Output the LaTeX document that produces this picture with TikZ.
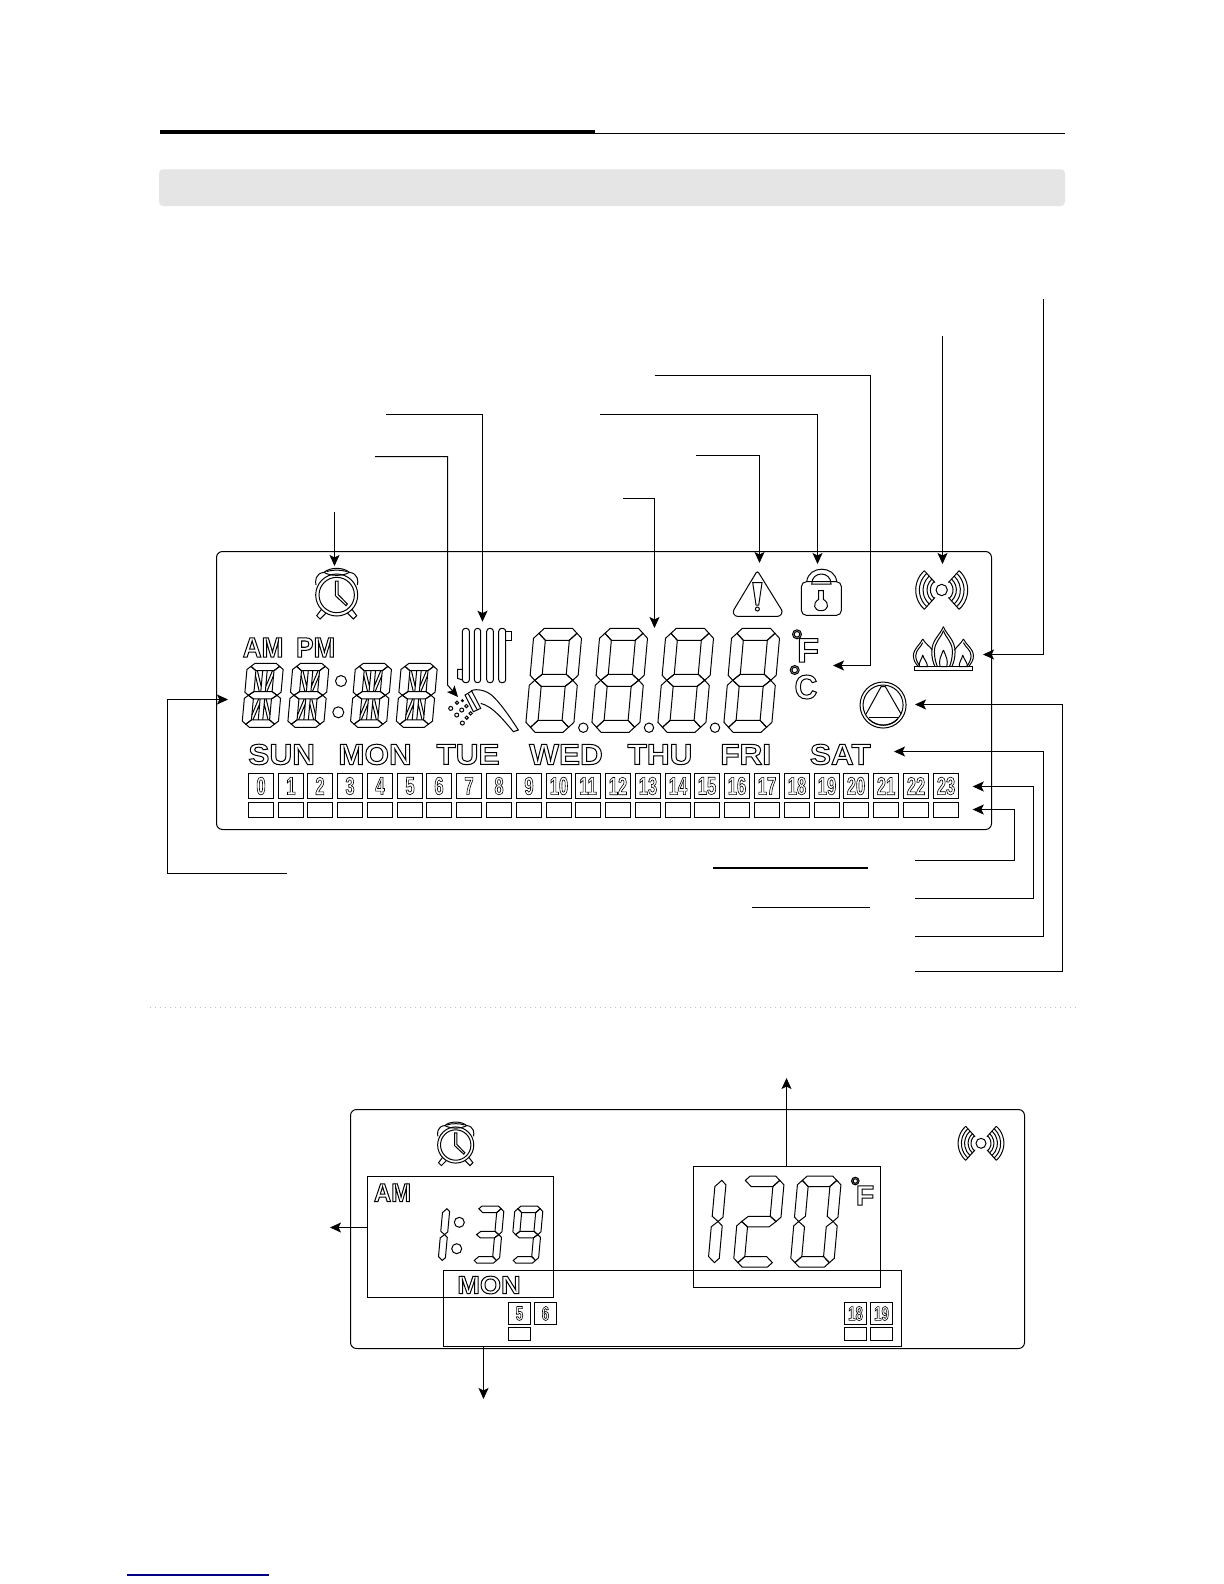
\documentclass[tikz,border=0pt]{standalone}
\usepackage{fontspec}
\setmainfont{Liberation Sans}
\newfontfamily\dayfont[FakeStretch=1.08]{Liberation Sans}
\newfontfamily\ampmfont[FakeStretch=0.93]{Liberation Sans}
\newfontfamily\hourfont[FakeStretch=0.66]{Liberation Sans}
\usetikzlibrary{positioning,arrows.meta}

% outlined letters, as on the display
\newcommand{\outlined}[1]{\special{pdf:code 1 Tr 0.5 w}#1\special{pdf:code 0 Tr}}
\newcommand{\thinoutlined}[1]{\special{pdf:code 1 Tr 0.3 w}#1\special{pdf:code 0 Tr}}

% one digit of the display, 48 wide and 104 high before scaling
\newcommand{\segA}{(10,0)--(38,0)--(43,5)--(36,12)--(12,12)--(5,5)--cycle}
\newcommand{\segB}{(43,5)--(48,10)--(48,47)--(43,52)--(36,46)--(36,12)--cycle}
\newcommand{\segC}{(43,52)--(48,57)--(48,94)--(43,99)--(36,92)--(36,58)--cycle}
\newcommand{\segD}{(5,99)--(12,92)--(36,92)--(43,99)--(38,104)--(10,104)--cycle}
\newcommand{\segE}{(5,52)--(12,58)--(12,92)--(5,99)--(0,94)--(0,57)--cycle}
\newcommand{\segF}{(5,5)--(12,12)--(12,46)--(5,52)--(0,47)--(0,10)--cycle}
\newcommand{\segG}{(5,52)--(12,46)--(36,46)--(43,52)--(36,58)--(12,58)--cycle}
\newcommand{\segX}{(21,12)--(21,46) (27,12)--(27,46) (14,12)--(21,38) (12,20)--(19,46) (34,12)--(27,38) (36,20)--(29,46)
  (21,58)--(21,92) (27,58)--(27,92) (19,58)--(12,84) (21,66)--(14,92) (29,58)--(36,84) (27,66)--(34,92)}
\newcommand{\digitsegs}[5]{%
  \begin{scope}[shift={(#1,#2)},xslant=0.09,xscale=#3,yscale=#4,lcdline]
    \foreach \seg in {#5} {\expandafter\draw\csname seg\seg\endcsname;}
  \end{scope}}

\newcommand{\alarmicon}[3]{%
  \begin{scope}[shift={(#1,#2)},x=#3*0.1667pt,y=-#3*0.1667pt,lcdline]
    \draw (0,0) circle (63);
    \draw (0,0) circle (53);
    \draw (-4,-42)--(-4,2)--(28,32)--(32,27)--(4,-2)--(4,-42)--cycle;
    \draw (-38,-68) .. controls (-20,-84) and (20,-84) .. (38,-68) .. controls (20,-56) and (-20,-56) .. cycle;
    \draw (-30,-70) .. controls (-15,-76) and (15,-76) .. (30,-70);
    \draw (-38,-68) .. controls (-65,-65) and (-65,-40) .. (-62,-30);
    \draw (38,-68) .. controls (65,-65) and (65,-40) .. (62,-30);
    \draw (-45,42)--(-60,62)--(-50,72)--(-32,54);
    \draw (45,42)--(60,62)--(50,72)--(32,54);
  \end{scope}}
\newcommand{\waveicon}[3]{%
  \begin{scope}[shift={(#1,#2)},x=#3*0.1667pt,y=#3*0.1667pt,lcdline]
    \draw (0,0) circle (17);
    \foreach \rad in {34,44,56,67,78} {
      \draw (132:\rad) arc (132:228:\rad);
      \draw (48:\rad) arc (48:-48:\rad);
    }
    \foreach \ang in {132,228,48,-48} {\draw (\ang:30) -- (\ang:78);}
  \end{scope}}

\tikzset{
  lcdline/.style={line width=0.5pt},
  arrow/.style={-{Stealth[length=5.5pt,width=5pt,inset=1.2pt]},line width=0.5pt},
  plainline/.style={line width=0.5pt},
  panel/.style={draw,line width=0.5pt,rounded corners=3pt,inner sep=0,outer sep=0},
  framebox/.style={draw,line width=0.5pt,inner sep=0,outer sep=0},
  hourbox/.style={draw,line width=0.5pt,minimum width=12.5pt,minimum height=12.5pt,inner sep=0,outer sep=0,font=\hourfont\bfseries\fontsize{12.5}{12.5}\selectfont},
  slotbox/.style={draw,line width=0.5pt,minimum width=12.5pt,minimum height=7.5pt,inner sep=0,outer sep=0},
  smallhour/.style={draw,line width=0.5pt,minimum width=11pt,minimum height=11pt,inner sep=0,outer sep=0,font=\hourfont\bfseries\fontsize{10}{10}\selectfont},
  smallslot/.style={draw,line width=0.5pt,minimum width=11pt,minimum height=6.5pt,inner sep=0,outer sep=0},
  dayname/.style={inner sep=0,font=\dayfont\bfseries\fontsize{14.6}{14.6}\selectfont},
  smallday/.style={inner sep=0,font=\dayfont\bfseries\fontsize{12.6}{12.6}\selectfont},
  ampm/.style={inner sep=0,font=\ampmfont\bfseries\fontsize{14}{14}\selectfont},
  smallampm/.style={inner sep=0,font=\ampmfont\bfseries\fontsize{12.8}{12.8}\selectfont},
  unitmark/.style={inner sep=0,font=\dayfont\bfseries\fontsize{17}{17}\selectfont},
  unitround/.style={inner sep=0,font=\ampmfont\bfseries\fontsize{17}{17}\selectfont},
  smallunit/.style={inner sep=0,font=\dayfont\bfseries\fontsize{14}{14}\selectfont}
}

\begin{document}
\begin{tikzpicture}[x=0.5pt,y=-0.5pt]
    \useasboundingbox (0,0) rectangle (1224,1584);

    % page head
    \fill[black] (160,130) rectangle (595,134);
    \draw[line width=0.5pt] (595,133.5) -- (1065,133.5);
    \fill[black!10,rounded corners=2pt] (159,169.3) rectangle (1065,206);
    \draw[black!25,line width=0.5pt,dotted] (150,1007.5) -- (1077,1007.5);
    \draw[blue!50!black,line width=0.8pt] (127,1575) -- (269,1575);

    % big display
    \node[panel,minimum width=387.5pt,minimum height=139pt] (mainpanel) at (604,690.5) {};
    \alarmicon{336.7}{595}{1}
    \waveicon{941.7}{590}{1}
    \node[ampm] (amlabel) at (263,647.5) {\outlined{AM}};
    \node[ampm] (pmlabel) at (315.7,647.5) {\outlined{PM}};
    \foreach \digitx in {247.5,293.1,355.8,401.5} {
      \digitsegs{\digitx}{663.3}{0.754}{0.615}{A,B,C,D,E,F,G,X}
    }
    \draw[lcdline] (341,681) circle (5.5) (338.3,712.3) circle (5.5);
    \foreach \digitx in {534.4,600.4,666.4,732.4} {
      \digitsegs{\digitx}{628.3}{1}{1}{A,B,C,D,E,F,G}
    }
    \foreach \dotx in {583.3,649,715} {
      \draw[lcdline] (\dotx,727.7) circle (4.7);
    }
    \node[unitmark] (degf) at (808,650.3) {\outlined{F}};
    \node[unitround] (degc) at (806,687) {\outlined{C}};
    \draw[lcdline] (797,634.3) circle (4.5) (797,634.3) circle (2.8);
    \draw[lcdline] (794.7,670) circle (4.5) (794.7,670) circle (2.8);

    % radiator, shower and drops
    \begin{scope}[shift={(210,540)},x=0.1667pt,y=-0.1667pt,lcdline]
      \draw[rounded corners=1.5pt] (757,265) rectangle (778,428);
      \draw[rounded corners=1.5pt] (793,265) rectangle (812,428);
      \draw[rounded corners=1.5pt] (830,265) rectangle (850,428);
      \draw[rounded corners=1.5pt] (866,265) rectangle (887,428);
      \draw (757,388) -- (743,388) -- (743,415) -- (757,420);
      \draw (887,275) -- (903,275) -- (903,300) -- (887,300);
      \draw (783,452) .. controls (800,445) and (830,450) .. (850,470) .. controls (880,500) and (905,540) .. (925,570) -- (910,575) .. controls (880,540) and (850,500) .. (812,490);
      \draw (765,465)--(785,453)--(812,505)--(790,515)--cycle;
      \draw (775,462)--(802,510);
      \draw (722,505) circle (6) (741,488) circle (5) (769,498) circle (5) (755,510) circle (6);
      \draw (740,525) circle (6) (782,520) circle (5) (770,533) circle (5) (757,549) circle (6);
      \fill (757,482) circle (5);
    \end{scope}

    % warning, lock, flame and pump
    \begin{scope}[shift={(600,540)},x=0.1667pt,y=-0.1667pt,lcdline]
      \draw[rounded corners=1.2pt] (472,92) -- (548,215) -- (540,229) -- (405,229) -- (398,215) -- cycle;
      \draw (458,128) -- (486,128) -- (476,195) -- (468,195) -- cycle;
      \draw (472,207) circle (6);
      \draw[rounded corners=2.5pt] (604,125) rectangle (724,226);
      \draw (620,125) .. controls (625,75) and (705,75) .. (710,125);
      \draw (635,132) -- (693,132) .. controls (693,92) and (635,92) .. cycle;
      \draw (656,152) -- (670,152) -- (670,178) .. controls (690,190) and (685,212) .. (663,212) .. controls (641,212) and (636,190) .. (656,178) -- cycle;
      \draw (943,380) rectangle (1118,390);
      \draw (1030,260) .. controls (1020,285) and (995,300) .. (995,335) .. controls (995,355) and (1000,370) .. (1005,380);
      \draw (1030,260) .. controls (1040,285) and (1065,300) .. (1065,335) .. controls (1065,355) and (1060,370) .. (1055,380);
      \draw (1030,272) .. controls (1022,295) and (1003,305) .. (1003,335) .. controls (1003,355) and (1008,370) .. (1012,380);
      \draw (1030,272) .. controls (1038,295) and (1057,305) .. (1057,335) .. controls (1057,355) and (1052,370) .. (1048,380);
      \draw (968,297) .. controls (960,315) and (940,325) .. (940,348) .. controls (940,362) and (948,372) .. (955,380);
      \draw (968,297) .. controls (975,310) and (990,320) .. (997,330);
      \draw (968,308) .. controls (962,322) and (947,330) .. (947,348) .. controls (947,360) and (954,370) .. (960,380);
      \draw (1090,297) .. controls (1098,315) and (1120,325) .. (1120,348) .. controls (1120,362) and (1112,372) .. (1105,380);
      \draw (1090,297) .. controls (1083,310) and (1070,320) .. (1063,330);
      \draw (1090,308) .. controls (1096,322) and (1113,330) .. (1113,348) .. controls (1113,360) and (1106,370) .. (1100,380);
      \draw (1030,330) .. controls (1022,350) and (1015,360) .. (1020,380) -- (1040,380) .. controls (1045,360) and (1038,350) .. (1030,330);
      \draw (968,345) .. controls (965,360) and (955,365) .. (958,380) -- (982,380) .. controls (982,365) and (972,360) .. (968,345);
      \draw (1088,345) .. controls (1085,360) and (1076,365) .. (1078,380) -- (1102,380) .. controls (1102,365) and (1092,360) .. (1088,345);
      \draw (849,495) circle (69) (849,495) circle (60);
      \draw (798,522) -- (843,440) -- (856,440) -- (903,522);
      \draw (806,532) -- (893,532);
      \draw (806,537) .. controls (830,562) and (870,562) .. (893,537);
    \end{scope}

    % week and hours
    \foreach \dayname/\dayx in {SUN/281.7,MON/375,TUE/468,WED/566,THU/660,FRI/745.7,SAT/840.3} {
      \node[dayname] (day\dayname) at (\dayx,754.5) {\outlined{\dayname}};
    }
    \foreach \hour in {0,...,23} {
      \pgfmathsetmacro{\hourx}{round(260.8+29.78*\hour)}
      \node[hourbox] (hour\hour) at (\hourx,786) {\thinoutlined{\hour}};
      \node[slotbox] (slot\hour) at (\hourx,810) {};
    }

    % connectors of the big display
    \coordinate (alarmstart) at (334.5,512);
    \coordinate (alarmtip) at (334.5,566);
    \coordinate (radstart) at (386,414.5);
    \coordinate (radbend) at (482.5,414.5);
    \coordinate (radtip) at (482.5,621.7);
    \coordinate (showerstart) at (375,456.5);
    \coordinate (showerbend) at (447.5,456.5);
    \coordinate (showerknee) at (447.5,685);
    \coordinate (showertip) at (458,697);
    \coordinate (digitstart) at (623,498.5);
    \coordinate (digitbend) at (654.5,498.5);
    \coordinate (digittip) at (654.5,628);
    \coordinate (warnstart) at (696,455.5);
    \coordinate (warnbend) at (759.5,455.5);
    \coordinate (warntip) at (759.5,563);
    \coordinate (lockstart) at (600,414.5);
    \coordinate (lockbend) at (817.5,414.5);
    \coordinate (locktip) at (817.5,564);
    \coordinate (unitstart) at (654.5,375.5);
    \coordinate (unitbend) at (870.5,375.5);
    \coordinate (unitknee) at (870.5,665.5);
    \coordinate (unittip) at (833,665.5);
    \coordinate (wavestart) at (942.5,336);
    \coordinate (wavetip) at (942.5,564);
    \coordinate (flamestart) at (1043.5,299);
    \coordinate (flamebend) at (1043.5,654.5);
    \coordinate (flametip) at (983,654.5);
    \coordinate (pumpstart) at (915,971.5);
    \coordinate (pumpbend) at (1062.5,971.5);
    \coordinate (pumpknee) at (1062.5,704.5);
    \coordinate (pumptip) at (915,704.5);
    \coordinate (weekstart) at (915,936.5);
    \coordinate (weekbend) at (1043.5,936.5);
    \coordinate (weekknee) at (1043.5,751.5);
    \coordinate (weektip) at (894,751.5);
    \coordinate (hourstart) at (915,898.5);
    \coordinate (hourbend) at (1033.5,898.5);
    \coordinate (hourknee) at (1033.5,786.5);
    \coordinate (hourtip) at (972.7,786.5);
    \coordinate (slotstart) at (915,860.5);
    \coordinate (slotbend) at (1014.5,860.5);
    \coordinate (slotknee) at (1014.5,809.5);
    \coordinate (slottip) at (972.7,809.5);
    \coordinate (clockstart) at (287,873.5);
    \coordinate (clockbend) at (167.5,873.5);
    \coordinate (clockknee) at (167.5,699.5);
    \coordinate (clocktip) at (228,699.5);
    \coordinate (ruleastart) at (713,868);
    \coordinate (ruleaend) at (868,868);
    \coordinate (rulebstart) at (752,907.5);
    \coordinate (rulebend) at (870,907.5);

    \draw[arrow] (alarmstart) -- (alarmtip);
    \draw[arrow] (radstart) -- (radbend) -- (radtip);
    \draw[arrow] (showerstart) -- (showerbend) -- (showerknee) -- (showertip);
    \draw[arrow] (digitstart) -- (digitbend) -- (digittip);
    \draw[arrow] (warnstart) -- (warnbend) -- (warntip);
    \draw[arrow] (lockstart) -- (lockbend) -- (locktip);
    \draw[arrow] (unitstart) -- (unitbend) -- (unitknee) -- (unittip);
    \draw[arrow] (wavestart) -- (wavetip);
    \draw[arrow] (flamestart) -- (flamebend) -- (flametip);
    \draw[arrow] (pumpstart) -- (pumpbend) -- (pumpknee) -- (pumptip);
    \draw[arrow] (weekstart) -- (weekbend) -- (weekknee) -- (weektip);
    \draw[arrow] (hourstart) -- (hourbend) -- (hourknee) -- (hourtip);
    \draw[arrow] (slotstart) -- (slotbend) -- (slotknee) -- (slottip);
    \draw[arrow] (clockstart) -- (clockbend) -- (clockknee) -- (clocktip);
    \draw[line width=1pt] (ruleastart) -- (ruleaend);
    \draw[plainline] (rulebstart) -- (rulebend);

    % small display
    \node[panel,minimum width=337pt,minimum height=119.5pt] (smallpanel) at (687.5,1229) {};
    \alarmicon{455.7}{1145}{0.86}
    \waveicon{981}{1143.3}{0.88}
    \node[framebox,minimum width=93pt,minimum height=60.5pt] (timebox) at (460.5,1237) {};
    \node[framebox,minimum width=93.5pt,minimum height=60.5pt] (tempbox) at (787,1227) {};
    \node[framebox,minimum width=229pt,minimum height=38pt] (daybox) at (672.5,1308.5) {};
    \node[smallampm] (amsmall) at (392.5,1192.7) {\outlined{AM}};
    \node[smallday] (monsmall) at (489,1285) {\outlined{MON}};
    \digitsegs{422}{1206}{0.585}{0.55}{B,C}
    \digitsegs{476.2}{1206}{0.585}{0.55}{A,B,C,D,G}
    \digitsegs{515.2}{1206}{0.585}{0.55}{A,B,C,D,F,G}
    \draw[lcdline] (459.3,1222.3) circle (5) (456.7,1248.7) circle (5);
    \digitsegs{683.2}{1176}{0.906}{0.875}{B,C}
    \digitsegs{741.2}{1176}{0.906}{0.875}{A,B,D,E,G}
    \digitsegs{798.2}{1176}{0.906}{0.875}{A,B,C,D,E,F}
    \node[smallunit] (degfsmall) at (865,1195.5) {\outlined{F}};
    \draw[lcdline] (855.3,1181) circle (3.8) (855.3,1181) circle (2.2);
    \node[smallhour] (hourfive) at (519.5,1313.5) {\thinoutlined{5}};
    \node[smallhour] (hoursix) at (545.5,1313.5) {\thinoutlined{6}};
    \node[smallhour] (houreight) at (855.5,1313.5) {\thinoutlined{18}};
    \node[smallhour] (hournine) at (881.5,1313.5) {\thinoutlined{19}};
    \node[smallslot] (slotfive) at (519.5,1334) {};
    \node[smallslot] (sloteight) at (855.5,1334) {};
    \node[smallslot] (slotnine) at (881.5,1334) {};

    \coordinate (temptip) at (786.5,1078);
    \coordinate (timetip) at (330,1227.5);
    \coordinate (daytip) at (483.5,1399);
    \draw[arrow] (tempbox.north -| temptip) -- (temptip);
    \draw[arrow] (timebox.west |- timetip) -- (timetip);
    \draw[arrow] (daybox.south -| daytip) -- (daytip);
\end{tikzpicture}
\end{document}
